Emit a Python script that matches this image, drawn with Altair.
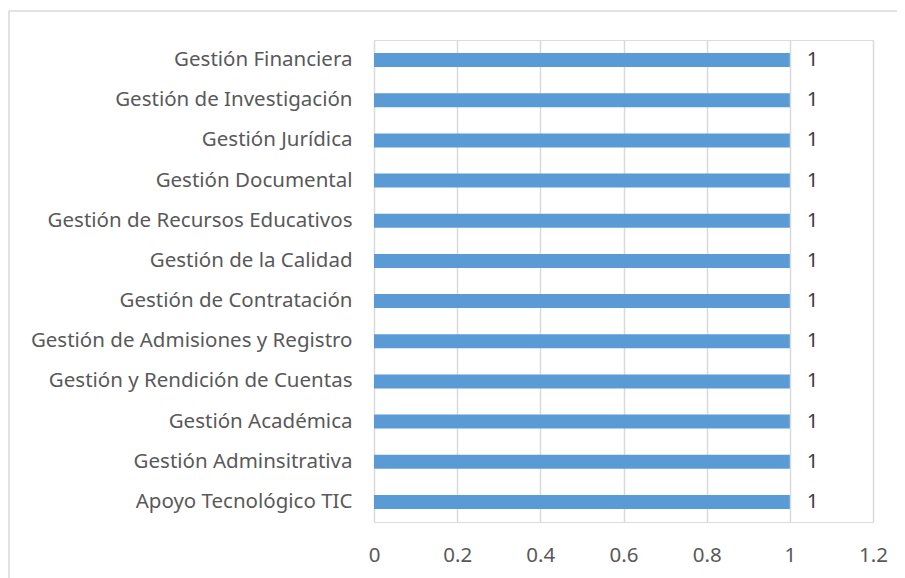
import altair as alt
import pandas as pd

categories = [
    "Gestión Financiera",
    "Gestión de Investigación",
    "Gestión Jurídica",
    "Gestión Documental",
    "Gestión de Recursos Educativos",
    "Gestión de la Calidad",
    "Gestión de Contratación",
    "Gestión de Admisiones y Registro",
    "Gestión y Rendición de Cuentas",
    "Gestión Académica",
    "Gestión Adminsitrativa",
    "Apoyo Tecnológico TIC",
]
values = [1, 1, 1, 1, 1, 1, 1, 1, 1, 1, 1, 1]
x_ticks = [0, 0.2, 0.4, 0.6, 0.8, 1, 1.2]

df = pd.DataFrame({"cat": categories, "val": values})

FONT = "Noto Sans"
FS = 20.5
W, H = 499, 482

y_enc = alt.Y("cat:N", sort=categories, title=None,
              scale=alt.Scale(paddingInner=0.65, paddingOuter=0.325),
              axis=alt.Axis(labelFont=FONT, labelFontSize=FS, labelColor="#595959",
                            labelPadding=22, ticks=False, domain=False, grid=False,
                            labelLimit=400))
x_enc = alt.X("val:Q", title=None,
              scale=alt.Scale(domain=[0, 1.2], nice=False),
              axis=alt.Axis(values=x_ticks, labelFont=FONT, labelFontSize=FS,
                            labelColor="#595959", labelPadding=23, ticks=False,
                            domain=False, grid=True, gridColor="#d9d9d9",
                            gridWidth=1.5, labelFlush=False,
                            labelExpr="datum.value"))

bars = alt.Chart(df).mark_bar(color="#5b9bd5").encode(x=x_enc, y=y_enc)
text = alt.Chart(df).mark_text(align="left", dx=17, font=FONT, fontSize=FS,
                               color="#404040").encode(
    x=alt.X("val:Q"), y=alt.Y("cat:N", sort=categories), text=alt.Text("val:Q"))

one = pd.DataFrame({"a": [0]})
border_top = alt.Chart(one).mark_rule(color="#d9d9d9", strokeWidth=1.5).encode(
    x=alt.value(-365), x2=alt.value(560), y=alt.value(-29))
border_left = alt.Chart(one).mark_rule(color="#d9d9d9", strokeWidth=1.5).encode(
    x=alt.value(-365), y=alt.value(-29), y2=alt.value(600))

chart = alt.layer(border_top, border_left, bars, text).properties(
    width=W, height=H,
    autosize=alt.AutoSizeParams(type="none"),
    padding={"left": 366, "top": 32, "right": 24, "bottom": 56},
).configure_view(stroke=None).configure(background="white")

chart.save("out.html", embed_options={"renderer": "svg", "actions": False})
